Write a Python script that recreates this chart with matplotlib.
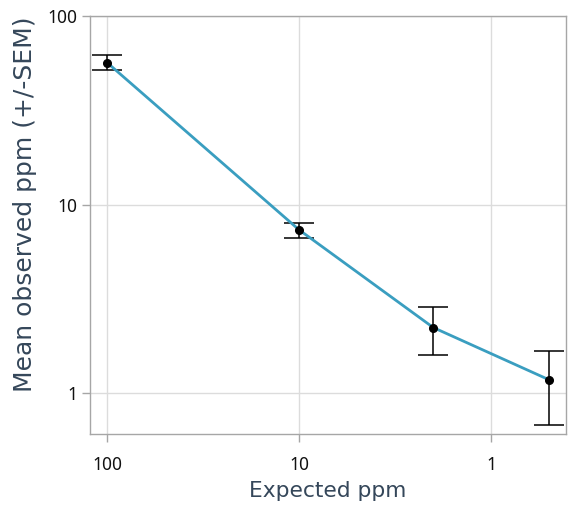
import numpy as np
import matplotlib
matplotlib.use('Agg')
import matplotlib.pyplot as plt
from matplotlib.ticker import FixedLocator, FixedFormatter, NullLocator

# Data
expected_ppm = [100, 10, 2, 0.5]
mean_observed = [56.6, 7.35, 2.23, 1.18]
sem = [5.2, 0.66, 0.64, 0.5]

x_ticks = [100, 10, 1]
x_tick_labels = ['100', '10', '1']
y_ticks = [1, 10, 100]
y_tick_labels = ['1', '10', '100']

line_color = '#3a9ec0'
label_color = '#35475a'
spine_color = '#a6a6a6'
grid_color = '#dcdcdc'

fig = plt.figure(figsize=(5.77, 5.12), dpi=100)
ax = fig.add_axes([0.156, 0.152, 0.825, 0.817])

ax.set_xscale('log')
ax.set_yscale('log')

ax.plot(expected_ppm, mean_observed, color=line_color, lw=2.0, zorder=3)
ax.errorbar(expected_ppm, mean_observed, yerr=sem, fmt='none', ecolor='black',
            elinewidth=1.1, capsize=10.5, capthick=1.1, zorder=2)
ax.plot(expected_ppm, mean_observed, 'o', color='black', markersize=5.5, zorder=4)

ax.set_xlim(122.6, 0.407)
ax.set_ylim(0.607, 100)

ax.xaxis.set_major_locator(FixedLocator(x_ticks))
ax.xaxis.set_major_formatter(FixedFormatter(x_tick_labels))
ax.xaxis.set_minor_locator(NullLocator())
ax.yaxis.set_major_locator(FixedLocator(y_ticks))
ax.yaxis.set_major_formatter(FixedFormatter(y_tick_labels))
ax.yaxis.set_minor_locator(NullLocator())

ax.grid(True, color=grid_color, lw=1.0)
ax.set_axisbelow(True)

for s in ax.spines.values():
    s.set_color(spine_color)
    s.set_linewidth(1.0)

ax.tick_params(axis='both', direction='out', length=6, width=1, color=spine_color,
               labelsize=12.5, labelcolor='#111111', pad=3)
for lbl in ax.get_xticklabels() + ax.get_yticklabels():
    lbl.set_family('Noto Sans')
ax.tick_params(axis='x', pad=10)

ax.set_xlabel('Expected ppm', fontsize=15.7, color=label_color, family='DejaVu Sans')
ax.set_ylabel('Mean observed ppm (+/-SEM)', fontsize=18, color=label_color, family='DejaVu Sans')
ax.xaxis.set_label_coords(0.5, -0.112)
ax.yaxis.set_label_coords(-0.111, 0.55)

fig.savefig('out.png', dpi=100)
